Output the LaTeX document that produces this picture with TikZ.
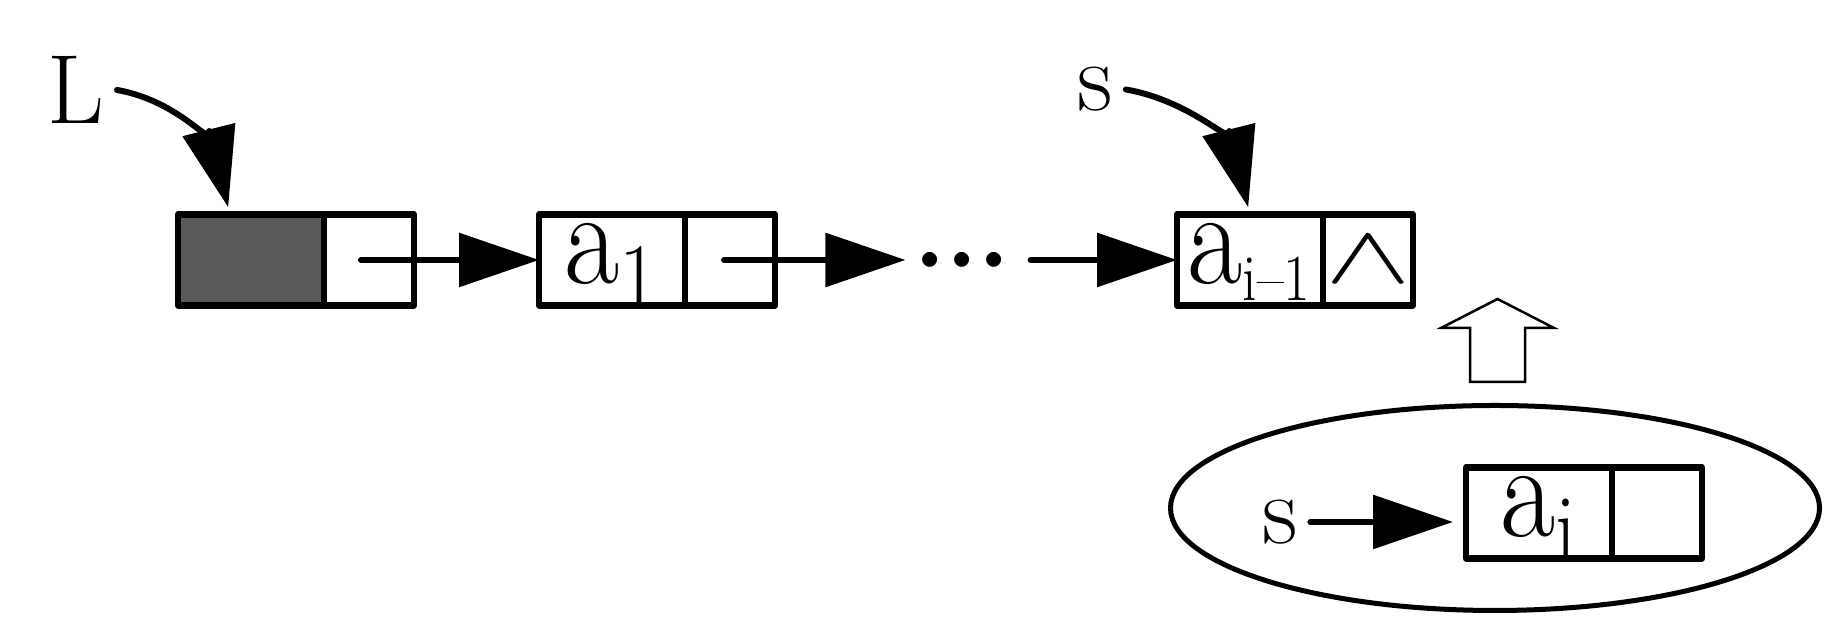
\documentclass[tikz,border=0pt]{standalone}
\usepackage{graphicx}
\usepackage{tikz}
\usetikzlibrary{arrows.meta}
\tikzset{cell/.style = {shape = rectangle, draw, line width = 0.065cm, line join = round, inner sep = 0, outer sep = 0, minimum height = 0.91cm, font = \fontsize{31}{34}\selectfont}}
\tikzset{datacell/.style = {cell, minimum width = 1.46cm, text height = 0.58cm, text depth = 0.1cm}}
\tikzset{ptrcell/.style = {cell, minimum width = 0.9cm}}
\tikzset{lbl/.style = {inner xsep = 0.12cm, inner ysep = 0, font = \fontsize{28}{30}\selectfont}}
\tikzset{edge/.style = {-{Triangle[length = 0.8cm, width = 0.53cm]}, line width = 0.06cm, line cap = round}}
\newcommand{\elem}[1]{\scalebox{1.1}[1.25]{a\textsubscript{#1}}}
\newcommand{\nullmark}{\scalebox{1.47}[0.94]{$\wedge$}}

\begin{document}
\begin{tikzpicture}
	\useasboundingbox (0, 0) rectangle (18.25, 6.19);

	% list
	\node[datacell, fill = black!65] (hd) at (2.51, 3.59) {};
	\node[ptrcell] (hp) at (3.69, 3.59) {};
	\node[datacell] (d1) at (6.12, 3.59) {\elem{1}};
	\node[ptrcell] (p1) at (7.30, 3.59) {};
	\node[inner xsep = 0.14cm, inner ysep = 0, text height = 0.1925cm, text depth = 0cm, font = \fontsize{11}{12}\selectfont] (dots) at (9.62, 3.59) {$\bullet$\hspace{0.13cm}$\bullet$\hspace{0.13cm}$\bullet$};
	\node[datacell] (dm) at (12.50, 3.59) {\elem{\fontsize{15}{15}\selectfont i\textendash 1}};
	\node[ptrcell] (pm) at (13.68, 3.59) {\nullmark};

	\node[lbl] (L) at (0.76, 5.29) {L};
	\node[lbl] (s1) at (10.955, 5.295) {s};

	\draw[edge] ([xshift = -0.08cm]hp.center) -- (d1.west);
	\draw[edge] ([xshift = -0.06cm]p1.center) -- (dots.west);
	\draw[edge, shorten <= 0.12cm] (dots.east) -- (dm.west);
	\draw[edge, shorten >= 0.075cm] (L.east) to[out = -10, in = 104] ([xshift = -0.21cm]hd.north);
	\draw[edge, shorten >= 0.075cm] (s1.east) to[out = -10, in = 104] (dm.north);

	% new node
	\draw[line width = 0.025cm] (14.70, 2.37) -- (14.70, 2.91) -- (14.41, 2.91) -- (14.975, 3.20) -- (15.54, 2.91) -- (15.25, 2.91) -- (15.25, 2.37) -- cycle;
	\draw[line width = 0.05cm] (14.95, 1.11) ellipse [x radius = 3.245, y radius = 1.025];

	\node[datacell] (di) at (15.39, 1.06) {\elem{i}};
	\node[ptrcell] (pi) at (16.57, 1.06) {};
	\node[lbl] (s2) at (12.80, 0.97) {s};

	\draw[edge, shorten >= 0.13cm] (s2.east) -- (s2.east -| di.west);
\end{tikzpicture}
\end{document}
